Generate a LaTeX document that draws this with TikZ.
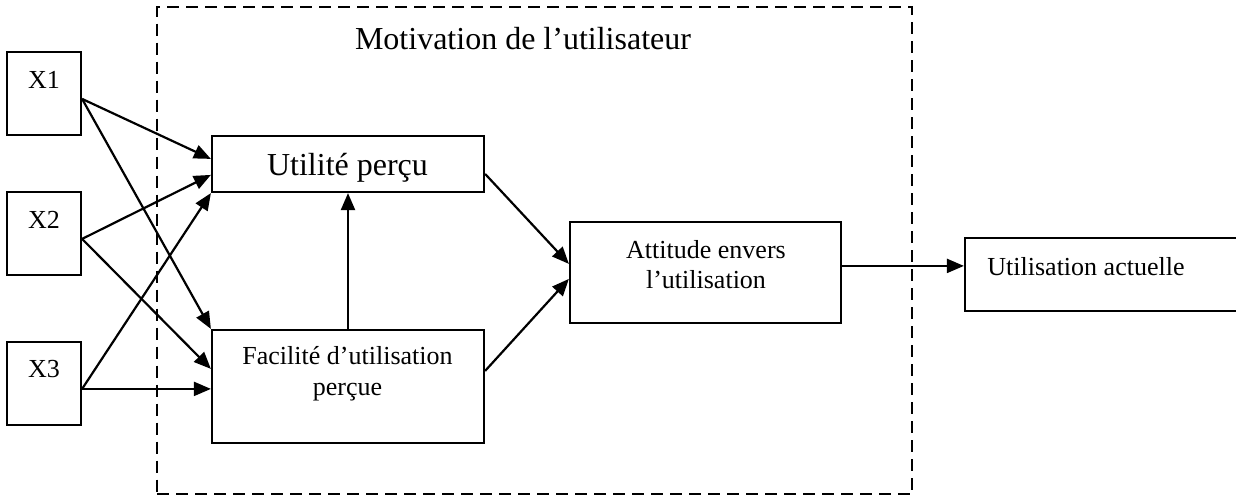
\documentclass[tikz,border=0pt]{standalone}
\usepackage{fontspec}
\setmainfont{Liberation Serif}
\usetikzlibrary{arrows.meta}

\tikzset{
  box/.style={draw, line width=1.1pt, inner sep=0pt},
  frame/.style={draw, line width=1.1pt, dash pattern=on 6pt off 3.5pt, inner sep=0pt},
  small/.style={font=\fontsize{13}{15.3}\selectfont, inner sep=0pt, align=center},
  big/.style={font=\fontsize{16}{19}\selectfont, inner sep=0pt},
  arr/.style={line width=1.1pt, -{Triangle[length=8.5pt, width=7pt]}},
}

\begin{document}
\begin{tikzpicture}[x=0.5pt, y=-0.5pt]
\useasboundingbox (0,0) rectangle (1236,494);

% dashed frame around the motivation constructs
\node[frame, minimum width=377.5pt, minimum height=243.75pt] (motiv) at (534.5,250.75) {};
\node[big, anchor=base] (motivtitle) at (523,49) {Motivation de l’utilisateur};

% external variables
\node[box, minimum width=37pt, minimum height=41.5pt] (x1) at (44,93.5) {};
\node[box, minimum width=37pt, minimum height=41.5pt] (x2) at (44,233.5) {};
\node[box, minimum width=37pt, minimum height=41.5pt] (x3) at (44,383.5) {};
\node[small, anchor=base] (x1t) at (44,88) {X1};
\node[small, anchor=base] (x2t) at (44,228) {X2};
\node[small, anchor=base] (x3t) at (44,377) {X3};

% perceived usefulness and ease of use
\node[box, minimum width=136pt, minimum height=28pt] (ut) at (348,164) {};
\node[big, anchor=base] (utt) at (347.5,175) {Utilité perçu};
\node[box, minimum width=136pt, minimum height=56.5pt] (fac) at (348,386.5) {};
\node[small, anchor=base] (fact1) at (347.5,364) {Facilité d’utilisation};
\node[small, anchor=base] (fact2) at (347.5,395) {perçue};

% attitude and actual use
\node[box, minimum width=135.5pt, minimum height=50.5pt] (att) at (705.5,272.5) {};
\node[small, anchor=base] (attt1) at (706,258) {Attitude envers};
\node[small, anchor=base] (attt2) at (706,288) {l’utilisation};
\node[box, minimum width=142.5pt, minimum height=36.5pt] (ua) at (1107.5,274.5) {};
\node[small, anchor=base west] (uat) at (987,275) {Utilisation actuelle};

% external variables -> perceived constructs
\draw[arr] ([yshift=-24pt]x1.north east) -- ([yshift=-12pt]ut.north west);
\draw[arr] ([yshift=-24pt]x1.north east) -- (fac.north west);
\draw[arr] ([yshift=-24pt]x2.north east) -- ([yshift=-20pt]ut.north west);
\draw[arr] ([yshift=-24pt]x2.north east) -- ([yshift=-20pt]fac.north west);
\draw[arr] ([yshift=-24pt]x3.north east) -- (ut.south west);
\draw[arr] ([yshift=-24pt]x3.north east) -- ([yshift=-30pt]fac.north west);

% links between constructs
\draw[arr] (fac.north) -- (ut.south);
\draw[arr] ([yshift=-19.5pt]ut.north east) -- ([yshift=-21.5pt]att.north west);
\draw[arr] ([yshift=-21pt]fac.north east) -- ([yshift=-29pt]att.north west);
\draw[arr] ([yshift=-22.5pt]att.north east) -- ([yshift=-14.5pt]ua.north west);
\end{tikzpicture}
\end{document}
